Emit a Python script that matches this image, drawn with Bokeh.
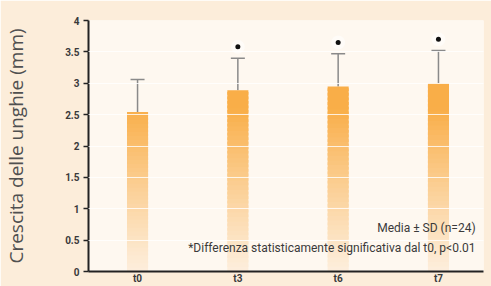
import numpy as np
from bokeh.plotting import figure
from bokeh.models import ColumnDataSource, Whisker, Label, FixedTicker, Range1d
from bokeh.embed import file_html
from bokeh.resources import INLINE

categories = ["t0", "t3", "t6", "t7"]
means = [2.54, 2.89, 2.95, 3.00]
sds = [0.52, 0.51, 0.52, 0.52]
significant = [False, True, True, True]
y_ticks = [0, 0.5, 1, 1.5, 2, 2.5, 3, 3.5, 4]
y_tick_labels = ["0", "0.5", "1", "1.5", "2", "2.5", "3", "3.5", "4"]
y_label = "Crescita delle unghie (mm)"
note1 = "Media ± SD (n=24)"
note2 = "*Differenza statisticamente significativa dal t0, p<0.01"

xs = list(range(len(categories)))

p = figure(width=491, height=286, output_backend="svg", toolbar_location=None,
           x_range=Range1d(-0.489, 3.449), y_range=Range1d(0, 4),
           min_border_left=88, min_border_top=20, min_border_right=8, min_border_bottom=0)
p.background_fill_color = "#FEF8F0"
p.border_fill_color = "#FCEDDA"
p.outline_line_color = None

# gradient bars built from slices of each value
light = np.array([0xFD, 0xEE, 0xDC])
dark = np.array([0xF9, 0xAE, 0x48])
N = 40
left, right, bottom, top, colors = [], [], [], [], []
bw = 0.21
for x, m in zip(xs, means):
    edges = np.linspace(0, m, N + 1)
    step = m / N
    for a, b in zip(edges[:-1], edges[1:]):
        t = min(1.0, ((a + b) / 2) / 2.6) ** 1.1
        c = light + (dark - light) * t
        left.append(x - bw / 2); right.append(x + bw / 2)
        bottom.append(a); top.append(min(b + step * 0.6, m))
        colors.append("#%02x%02x%02x" % tuple(int(round(v)) for v in c))
p.quad(left=left, right=right, bottom=bottom, top=top, fill_color=colors, line_color=None)

src = ColumnDataSource(dict(x=xs, lower=means,
                            upper=[m + s for m, s in zip(means, sds)]))
wh = Whisker(base="x", lower="lower", upper="upper", source=src,
             line_color="#8a8a8a", line_width=1.5, lower_head=None)
wh.upper_head.size = 14
wh.upper_head.line_color = "#8a8a8a"
wh.upper_head.line_width = 1.5
p.add_layout(wh)

sx = [x for x, s in zip(xs, significant) if s]
sy = [m + s + 0.18 for m, s, g in zip(means, sds, significant) if g]
p.scatter(sx, sy, size=14, color="white", alpha=0.5, line_color=None)
p.scatter(sx, sy, size=5, color="#111111", line_color=None)

p.add_layout(Label(x=3.37, y=0.70, text=note1, text_align="right", text_baseline="middle",
                   text_font="Roboto", text_font_size="12px", text_color="#3a3a3a"))
p.add_layout(Label(x=3.37, y=0.37, text=note2, text_align="right", text_baseline="middle",
                   text_font="Roboto", text_font_size="12px", text_color="#3a3a3a"))

p.xgrid.visible = False
p.ygrid.ticker = FixedTicker(ticks=y_ticks)
p.ygrid.grid_line_color = "white"
p.ygrid.grid_line_alpha = 0.8
p.ygrid.level = "overlay"

p.yaxis.ticker = FixedTicker(ticks=y_ticks)
p.yaxis.major_label_overrides = {t: l for t, l in zip(y_ticks, y_tick_labels)}
p.yaxis.axis_line_width = 2
p.yaxis.axis_line_color = "#222222"
p.yaxis.major_tick_line_color = "#222222"
p.yaxis.major_tick_line_width = 1.5
p.yaxis.major_tick_out = 5
p.yaxis.major_tick_in = 0
p.yaxis.minor_tick_line_color = None
p.yaxis.major_label_text_font = "Roboto"
p.yaxis.major_label_text_font_style = "bold"
p.yaxis.major_label_text_font_size = "10px"
p.yaxis.major_label_text_color = "#3a3a3a"
p.yaxis.major_label_standoff = 4
p.yaxis.axis_label = y_label
p.yaxis.axis_label_text_font = "Open Sans"
p.yaxis.axis_label_text_font_style = "normal"
p.yaxis.axis_label_text_font_size = "19px"
p.yaxis.axis_label_text_color = "#505050"
p.yaxis.axis_label_standoff = 33

p.xaxis.ticker = FixedTicker(ticks=xs)
p.xaxis.major_label_overrides = {x: c for x, c in zip(xs, categories)}
p.xaxis.axis_line_width = 2
p.xaxis.axis_line_color = "#222222"
p.xaxis.major_tick_line_color = None
p.xaxis.minor_tick_line_color = None
p.xaxis.major_tick_out = 0
p.xaxis.axis_label_standoff = 0
p.xaxis.major_label_text_font = "Roboto"
p.xaxis.major_label_text_font_style = "bold"
p.xaxis.major_label_text_font_size = "10px"
p.xaxis.major_label_text_color = "#3a3a3a"
p.xaxis.major_label_standoff = 1

open("out.html", "w").write(file_html(p, INLINE))
